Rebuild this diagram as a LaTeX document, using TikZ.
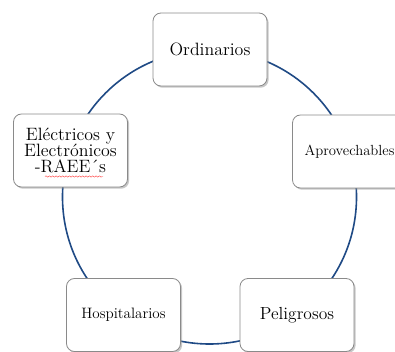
\documentclass[tikz,border=0pt]{standalone}
\usetikzlibrary{shadows,decorations.pathmorphing}
\definecolor{ringblue}{HTML}{1F4A85}
\definecolor{boxline}{HTML}{8A8A8A}
\begin{document}
\begin{tikzpicture}[x=0.75pt,y=-0.75pt,
  cbox/.style={draw=boxline,line width=0.6pt,fill=white,rounded corners=6pt,
    minimum width=85.5pt,minimum height=54.75pt,inner sep=1pt,align=center,
    drop shadow={shadow xshift=1.2pt,shadow yshift=-1.3pt,fill=black!40,opacity=0.55}},
  ring/.style={draw=ringblue,line width=1.2pt}]
\useasboundingbox (0,0) rectangle (395,352);
\clip (0,0) rectangle (395,352);
\coordinate (ctr) at (209.5,197);
\draw[ring] (ctr) circle[radius=110.25pt];
\node[cbox,font=\fontsize{13.4}{15}\selectfont] (ord) at (210,49.5) {Ordinarios};
\node[cbox,font=\fontsize{11}{13}\selectfont] (apr) at (349.5,151.5) {Aprovechables};
\node[cbox,font=\fontsize{13.1}{15}\selectfont] (pel) at (297,315) {Peligrosos};
\node[cbox,font=\fontsize{11.3}{13}\selectfont] (hos) at (123.5,315) {Hospitalarios};
\node[cbox,font=\fontsize{13.4}{12.3}\selectfont] (ele) at (70.5,150.5) {Eléctricos y\\Electrónicos\\-RAEE´s};
\coordinate (sqA) at (45,176.5);
\coordinate (sqB) at (103,176.5);
\draw[red!70,line width=0.35pt,decorate,decoration={snake,amplitude=0.5pt,segment length=2.5pt}] (sqA) -- (sqB);
\end{tikzpicture}
\end{document}
